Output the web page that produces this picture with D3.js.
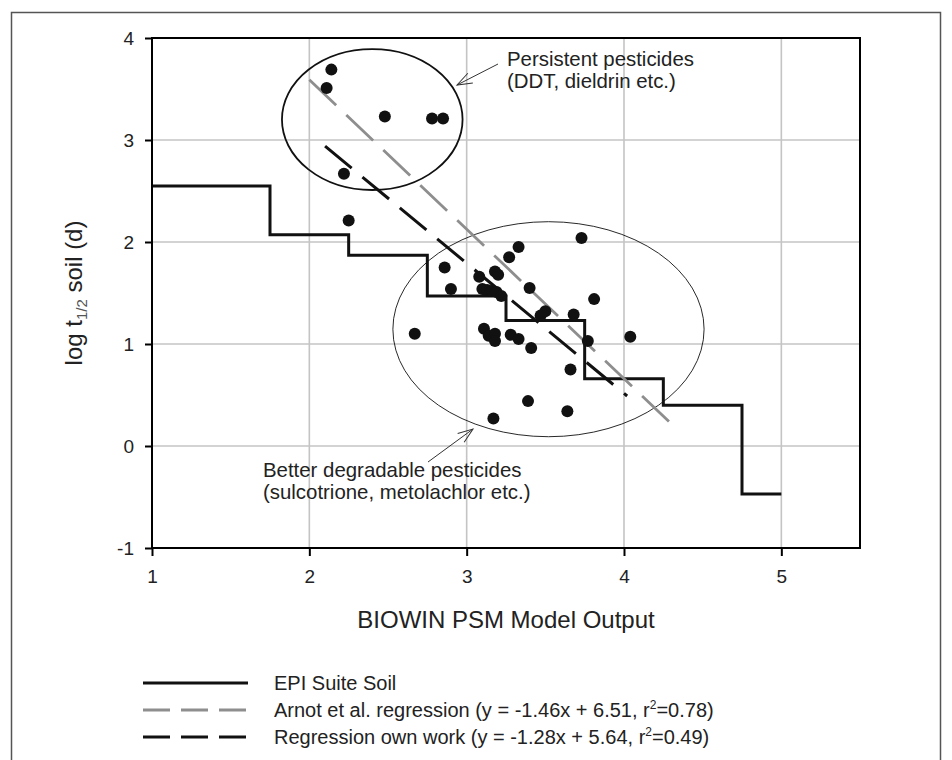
<!DOCTYPE html>
<html lang="en">
<head>
<meta charset="UTF-8">
<title>BIOWIN PSM vs soil half-life</title>
<script src="https://d3js.org/d3.v7.min.js"></script>
<style>
body{margin:0;background:#fff}
svg{display:block;font-family:"Liberation Sans",Arial,sans-serif}
.tick text{font-size:19px;fill:#222}
.tick line{stroke:#000;stroke-width:2}
.grid line{stroke:#c4c4c4;stroke-width:1.6}
.ann{font-size:20.4px;fill:#222}
.leg{font-size:20px;fill:#222}
.axtitle{font-size:24px;fill:#222}
</style>
</head>
<body>
<script>
// measured points (BIOWIN output vs log t1/2 soil)
const pointX = [2.14, 2.11, 2.48, 2.78, 2.85, 2.22, 2.25, 2.86, 3.73, 3.33,
                3.27, 3.18, 3.20, 3.08, 2.90, 3.10, 3.13, 3.16, 3.19, 3.22,
                3.40, 3.81, 3.47, 3.50, 3.68, 3.77, 4.04, 2.67, 3.11, 3.14,
                3.18, 3.18, 3.28, 3.33, 3.41, 3.66, 3.39, 3.64, 3.17];
const pointY = [3.69, 3.51, 3.23, 3.21, 3.21, 2.67, 2.21, 1.75, 2.04, 1.95,
                1.85, 1.71, 1.68, 1.66, 1.54, 1.54, 1.53, 1.52, 1.51, 1.47,
                1.55, 1.44, 1.28, 1.32, 1.29, 1.03, 1.07, 1.10, 1.15, 1.08,
                1.10, 1.03, 1.09, 1.05, 0.96, 0.75, 0.44, 0.34, 0.27];

// EPI Suite soil step function
const stepX = [1, 1.75, 2.25, 2.75, 3.25, 3.75, 4.25, 4.75, 5];
const stepY = [2.55, 2.07, 1.87, 1.47, 1.23, 0.66, 0.40, -0.47, -0.47];

// regression line end points
const arnotX = [2.0, 4.30];
const arnotY = [3.59, 0.22];
const ownX = [2.1, 4.02];
const ownY = [2.94, 0.49];

// groups circled on the chart: centre x, centre y, radius x, radius y
const groupNames = ['persistent', 'degradable'];
const groupCx = [2.40, 3.52];
const groupCy = [3.20, 1.145];
const groupRx = [0.574, 0.989];
const groupRy = [0.69, 1.054];

const xTicks = [1, 2, 3, 4, 5];
const yTicks = [-1, 0, 1, 2, 3, 4];

const legendLabels = ['EPI Suite Soil', 'Arnot et al. regression', 'Regression own work'];
const legendEq = ['', ' (y = -1.46x + 6.51, r', ' (y = -1.28x + 5.64, r'];
const legendR2 = ['', '=0.78)', '=0.49)'];

const W = 952, H = 760;
const m = { left: 152, top: 38, right: 92, bottom: 212 };
const w = W - m.left - m.right, h = H - m.top - m.bottom;

const svg = d3.select('body').append('svg').attr('width', W).attr('height', H);

svg.append('defs').append('marker')
  .attr('id', 'open').attr('markerUnits', 'userSpaceOnUse')
  .attr('viewBox', '-16 -7 18 14').attr('refX', 0).attr('refY', 0)
  .attr('markerWidth', 18).attr('markerHeight', 14).attr('orient', 'auto')
  .append('path').attr('d', 'M-15,-5.5L0,0L-15,5.5')
  .attr('fill', 'none').attr('stroke', '#333').attr('stroke-width', 1);

// outer figure frame
svg.append('path').attr('d', 'M11.5,780V12.5H940.5V780')
  .attr('fill', 'none').attr('stroke', '#555').attr('stroke-width', 1.5);

const x = d3.scaleLinear().domain([1, 5.5]).range([0, w]);
const y = d3.scaleLinear().domain([-1, 4]).range([h, 0]);

const g = svg.append('g').attr('transform', `translate(${m.left},${m.top})`);

// grid
g.append('g').attr('class', 'grid').selectAll('line').data(xTicks.slice(1)).join('line')
  .attr('x1', d => x(d)).attr('x2', d => x(d)).attr('y1', 0).attr('y2', h);
g.append('g').attr('class', 'grid').selectAll('line').data(yTicks.slice(1, -1)).join('line')
  .attr('x1', 0).attr('x2', w).attr('y1', d => y(d)).attr('y2', d => y(d));

// ellipses
g.selectAll('ellipse').data(groupNames).join('ellipse')
  .attr('cx', (d, i) => x(groupCx[i])).attr('cy', (d, i) => y(groupCy[i]))
  .attr('rx', (d, i) => x(1 + groupRx[i]) - x(1))
  .attr('ry', (d, i) => y(0) - y(groupRy[i]))
  .attr('fill', 'none').attr('stroke', '#111')
  .attr('stroke-width', (d, i) => i === 0 ? 1.8 : 0.9);

// EPI Suite step line
const stepLine = d3.line().x(d => x(d[0])).y(d => y(d[1])).curve(d3.curveStepAfter);
g.append('path').datum(stepX.map((v, i) => [v, stepY[i]]))
  .attr('d', stepLine).attr('fill', 'none').attr('stroke', '#111').attr('stroke-width', 3);

// regressions
const line = d3.line().x(d => x(d[0])).y(d => y(d[1]));
g.append('path').datum(arnotX.map((v, i) => [v, arnotY[i]]))
  .attr('d', line).attr('fill', 'none').attr('stroke', '#8e8e8e')
  .attr('stroke-width', 2.8).attr('stroke-dasharray', '37,14');
g.append('path').datum(ownX.map((v, i) => [v, ownY[i]]))
  .attr('d', line).attr('fill', 'none').attr('stroke', '#111')
  .attr('stroke-width', 3).attr('stroke-dasharray', '34.5,14');

// points
g.append('g').selectAll('circle').data(pointX).join('circle')
  .attr('cx', d => x(d)).attr('cy', (d, i) => y(pointY[i])).attr('r', 6)
  .attr('fill', '#111');

// plot frame
g.append('rect').attr('width', w).attr('height', h)
  .attr('fill', 'none').attr('stroke', '#000').attr('stroke-width', 2);

// axes
const xa = g.append('g').attr('transform', `translate(0,${h})`)
  .call(d3.axisBottom(x).tickValues(xTicks).tickSize(8).tickPadding(14).tickFormat(d => String(d)));
const ya = g.append('g')
  .call(d3.axisLeft(y).tickValues(yTicks).tickSize(7).tickPadding(11).tickFormat(d => String(d)));
xa.select('.domain').remove();
ya.select('.domain').remove();

// axis titles
svg.append('text').attr('class', 'axtitle').attr('x', m.left + w / 2).attr('y', 628)
  .attr('text-anchor', 'middle').text('BIOWIN PSM Model Output');
const yt = svg.append('text').attr('class', 'axtitle').attr('text-anchor', 'middle')
  .attr('transform', `translate(82,${m.top + h / 2}) rotate(-90)`);
yt.append('tspan').text('log t');
yt.append('tspan').attr('font-size', 15).attr('fill', '#555').attr('dy', 5).text('1/2');
yt.append('tspan').attr('dy', -5).text(' soil (d)');

// annotations
const ann = svg.append('g').attr('class', 'ann');
ann.append('text').attr('x', 507).attr('y', 66).text('Persistent pesticides');
ann.append('text').attr('x', 507).attr('y', 88).text('(DDT, dieldrin etc.)');
ann.append('text').attr('x', 263).attr('y', 477).text('Better degradable pesticides');
ann.append('text').attr('x', 263).attr('y', 499).text('(sulcotrione, metolachlor etc.)');
svg.append('line').attr('x1', 498).attr('y1', 64).attr('x2', 457).attr('y2', 85)
  .attr('stroke', '#333').attr('stroke-width', 1).attr('marker-end', 'url(#open)');
svg.append('line').attr('x1', 428).attr('y1', 462).attr('x2', 473).attr('y2', 429)
  .attr('stroke', '#333').attr('stroke-width', 1).attr('marker-end', 'url(#open)');

// legend
const legY = [683, 710, 737];
const legStroke = ['#111', '#8e8e8e', '#111'];
const legDash = [null, '27,11', '27,11'];
const leg = svg.append('g');
leg.selectAll('line').data(legendLabels).join('line')
  .attr('x1', 143).attr('x2', 248).attr('y1', (d, i) => legY[i]).attr('y2', (d, i) => legY[i])
  .attr('stroke', (d, i) => legStroke[i]).attr('stroke-width', 3)
  .attr('stroke-dasharray', (d, i) => legDash[i]);
const lt = leg.selectAll('text').data(legendLabels).join('text')
  .attr('class', 'leg').attr('x', 274).attr('y', (d, i) => legY[i]).attr('dy', '0.36em');
lt.append('tspan').text(d => d);
lt.append('tspan').text((d, i) => legendEq[i]);
lt.filter((d, i) => legendR2[i]).append('tspan')
  .attr('font-size', 12).attr('dy', -8).text('2');
lt.filter((d, i) => legendR2[i]).append('tspan')
  .attr('dy', 8).text(d => legendR2[legendLabels.indexOf(d)]);
</script>
</body>
</html>
